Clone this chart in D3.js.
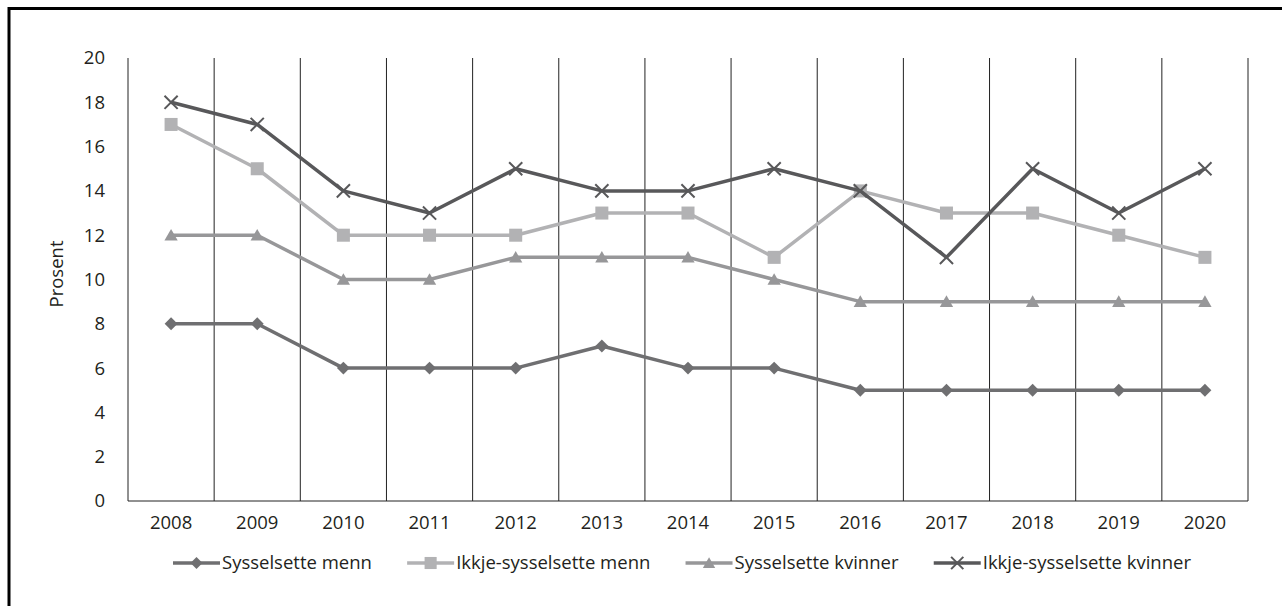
<!DOCTYPE html>
<html>
<head>
<meta charset="utf-8">
<script src="https://cdn.jsdelivr.net/npm/d3@7"></script>
<style>
  body { margin: 0; background: #fff; overflow: hidden; }
  svg { display: block; font-family: "Open Sans", "Noto Sans", sans-serif; }
</style>
</head>
<body>
<div id="canvas"></div>
<script>
const years = ["2008", "2009", "2010", "2011", "2012", "2013", "2014", "2015", "2016", "2017", "2018", "2019", "2020"];
const sysMenn = [8, 8, 6, 6, 6, 7, 6, 6, 5, 5, 5, 5, 5];
const ikkjeMenn = [17, 15, 12, 12, 12, 13, 13, 11, 14, 13, 13, 12, 11];
const sysKvinner = [12, 12, 10, 10, 11, 11, 11, 10, 9, 9, 9, 9, 9];
const ikkjeKvinner = [18, 17, 14, 13, 15, 14, 14, 15, 14, 11, 15, 13, 15];
const seriesNames = ["Sysselsette menn", "Ikkje-sysselsette menn", "Sysselsette kvinner", "Ikkje-sysselsette kvinner"];
const yTicks = [0, 2, 4, 6, 8, 10, 12, 14, 16, 18, 20];

const width = 1282;
const height = 606;
const margin = {top: 58, left: 128, bottom: 105, right: 34};
const iwidth = width - margin.left - margin.right;
const iheight = height - margin.top - margin.bottom;
const fontSize = 18.5;

const series = [
    {name: seriesNames[0], values: sysMenn, color: "#6f6f71", marker: "diamond"},
    {name: seriesNames[1], values: ikkjeMenn, color: "#b2b2b4", marker: "square"},
    {name: seriesNames[2], values: sysKvinner, color: "#979799", marker: "triangle"},
    {name: seriesNames[3], values: ikkjeKvinner, color: "#58585a", marker: "cross"}
];

const svg = d3.select("#canvas").append("svg")
    .attr("width", width)
    .attr("height", height);

// outer frame (only top and left visible in the crop)
svg.append("path")
    .attr("d", `M9,${height + 5}V8.5H${width + 5}`)
    .attr("fill", "none")
    .attr("stroke", "#000")
    .attr("stroke-width", 3);

const g = svg.append("g").attr("transform", `translate(${margin.left},${margin.top})`);

const x = d3.scaleBand()
    .domain(years)
    .range([0, iwidth]);

const y = d3.scaleLinear()
    .domain([0, 20])
    .range([iheight, 0]);

// vertical separators between categories
g.append("g")
    .selectAll("line")
    .data(years.concat(["end"]))
    .enter().append("line")
    .attr("x1", (d, i) => i * x.bandwidth())
    .attr("x2", (d, i) => i * x.bandwidth())
    .attr("y1", 0)
    .attr("y2", iheight)
    .attr("stroke", "#222")
    .attr("stroke-width", 1);

// baseline
g.append("line")
    .attr("x1", 0).attr("x2", iwidth)
    .attr("y1", y(0)).attr("y2", y(0))
    .attr("stroke", "#222")
    .attr("stroke-width", 1);

// y axis labels
g.append("g")
    .selectAll("text")
    .data(yTicks)
    .enter().append("text")
    .attr("x", -23)
    .attr("y", d => y(d))
    .attr("dy", "0.35em")
    .attr("text-anchor", "end")
    .attr("font-size", fontSize)
    .attr("fill", "#231f20")
    .text(d => d);

// x axis labels
g.append("g")
    .selectAll("text")
    .data(years)
    .enter().append("text")
    .attr("x", d => x(d) + x.bandwidth() / 2)
    .attr("y", iheight + 22)
    .attr("dy", "0.35em")
    .attr("text-anchor", "middle")
    .attr("font-size", fontSize)
    .attr("fill", "#231f20")
    .text(d => d);

svg.append("text")
    .attr("transform", "translate(57,274) rotate(-90)")
    .attr("text-anchor", "middle")
    .attr("dy", "0.35em")
    .attr("font-size", fontSize)
    .attr("fill", "#231f20")
    .text("Prosent");

function drawMarker(sel, type, color, size) {
    const h = size / 2;
    let d;
    if (type === "cross") {
        const s = size * 0.47;
        sel.append("path")
            .attr("d", `M${-s},${-s}L${s},${s}M${-s},${s}L${s},${-s}`)
            .attr("stroke", color)
            .attr("stroke-width", 2)
            .attr("fill", "none");
        return;
    }
    if (type === "diamond") { const q = h * 0.92; d = `M0,${-q}L${q},0L0,${q}L${-q},0Z`; }
    if (type === "square") { const q = h * 0.93; d = `M${-q},${-q}H${q}V${q}H${-q}Z`; }
    if (type === "triangle") d = `M0,${-h * 0.9}L${h * 0.95},${h * 0.75}L${-h * 0.95},${h * 0.75}Z`;
    sel.append("path").attr("d", d).attr("fill", color);
}

const line = d3.line()
    .x((d, i) => x(years[i]) + x.bandwidth() / 2)
    .y(d => y(d));

series.forEach(s => {
    g.append("path")
        .datum(s.values)
        .attr("fill", "none")
        .attr("stroke", s.color)
        .attr("stroke-width", 3.5)
        .attr("stroke-linejoin", "round")
        .attr("d", line);

    g.append("g")
        .selectAll("g")
        .data(s.values)
        .enter().append("g")
        .attr("transform", (d, i) => `translate(${x(years[i]) + x.bandwidth() / 2},${y(d)})`)
        .each(function () { drawMarker(d3.select(this), s.marker, s.color, 14); });
});

// legend: items spread evenly between left and right ends
const legendLeft = 173, legendRight = 1191, swatch = 47, textGap = 2;
const legend = svg.append("g");
const items = series.map(s => {
    const lg = legend.append("g");
    lg.append("line")
        .attr("x1", 0).attr("x2", swatch)
        .attr("y1", 0).attr("y2", 0)
        .attr("stroke", s.color)
        .attr("stroke-width", 3.5);
    drawMarker(lg.append("g").attr("transform", `translate(${swatch / 2},0)`), s.marker, s.color, 13);
    const t = lg.append("text")
        .attr("x", swatch + textGap)
        .attr("dy", "0.35em")
        .attr("font-size", fontSize)
        .attr("fill", "#231f20")
        .text(s.name);
    return {lg, w: swatch + textGap + t.node().getComputedTextLength()};
});
const totalW = d3.sum(items, d => d.w);
const gap = (legendRight - legendLeft - totalW) / (items.length - 1);
let cx = legendLeft;
items.forEach(it => {
    it.lg.attr("transform", `translate(${cx},563)`);
    cx += it.w + gap;
});
</script>
</body>
</html>
